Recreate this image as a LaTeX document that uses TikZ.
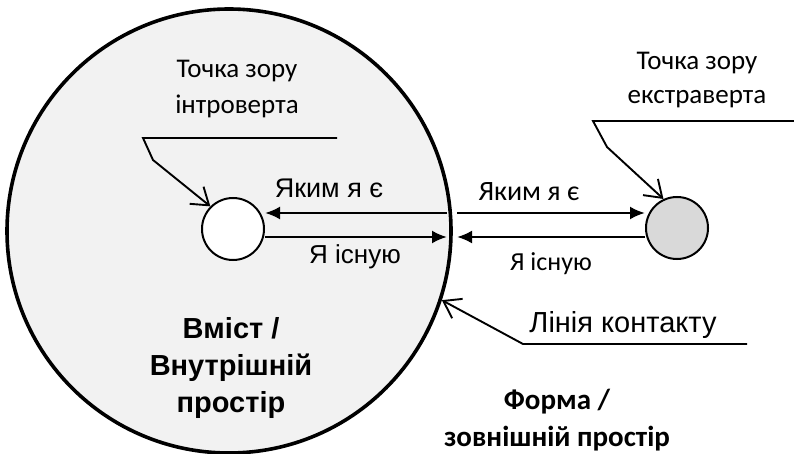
\documentclass[tikz,border=0pt]{standalone}
\usepackage{fontspec}
\setmainfont{Carlito}
\newfontfamily\arialfont{Liberation Sans}
\usetikzlibrary{arrows.meta}
\definecolor{innergray}{HTML}{F2F2F2}
\definecolor{dotgray}{HTML}{D9D9D9}

\begin{document}
\begin{tikzpicture}[x=1pt,y=-1pt]
\tikzstyle{arr}=[line width=2.4pt, -{Latex[length=15pt,width=13pt]}]
\tikzstyle{ptr}=[line width=1.9pt, -{Straight Barb[length=16pt,width=22pt]}]
\tikzstyle{dot}=[circle, draw, line width=2pt, minimum size=62pt, inner sep=0pt]
\tikzstyle{lbl}=[inner sep=0pt, anchor=base]

\useasboundingbox (0,0) rectangle (794,454);

\node (inner) at (229,231) [circle, draw, line width=3.6pt, fill=innergray, minimum size=444pt, inner sep=0pt] {};
\node (intro) at (233,229) [dot, fill=white] {};
\node (extra) at (677,228) [dot, fill=dotgray] {};

\coordinate (inA) at (447,213);
\coordinate (inB) at (447,237);
\coordinate (outA) at (457,213);
\coordinate (outB) at (457,237);

\draw[arr] (inA) -- (inA -| intro.east);
\draw[arr] (inB -| intro.east) -- (inB);
\draw[arr] (outA) -- (outA -| extra.west);
\draw[arr] (outB -| extra.west) -- (outB);

\node (introLbl) at (237,89) [align=center, font=\fontsize{27}{36}\selectfont] {Точка зору\\інтроверта};
\node (extraLbl) at (697,80) [align=center, font=\fontsize{27}{34}\selectfont] {Точка зору\\екстраверта};

\coordinate (introEnd) at (337,138);
\coordinate (extraEnd) at (794,121);
\coordinate (contEnd) at (747,344);

\draw[ptr] (introEnd) -- ++(-194,0) -- ++(10,22) -- (intro.north west);
\draw[ptr] (extraEnd) -- ++(-201,0) -- ++(14,26) -- (extra.115);
\draw[ptr] (contEnd) -- ++(-224,0) -- (inner.-18);

\node[lbl, font=\arialfont\fontsize{27}{30}\selectfont] (isLeft) at (329,198) {Яким я є};
\node[lbl, font=\arialfont\fontsize{26}{30}\selectfont] (existLeft) at (355,263) {Я існую};
\node[lbl, font=\fontsize{28}{32}\selectfont] (isRight) at (529,201) {Яким я є};
\node[lbl, font=\fontsize{26}{30}\selectfont] (existRight) at (551,270) {Я існую};
\node[lbl, font=\arialfont\fontsize{29}{32}\selectfont] (contact) at (623,332) {Лінія контакту};

\node (content) at (231,368) [align=center, font=\arialfont\bfseries\fontsize{29}{37}\selectfont] {Вміст /\\Внутрішній\\простір};
\node (form) at (557,420) [align=center, font=\bfseries\fontsize{29}{37}\selectfont] {Форма /\\зовнішній простір};

\end{tikzpicture}
\end{document}
